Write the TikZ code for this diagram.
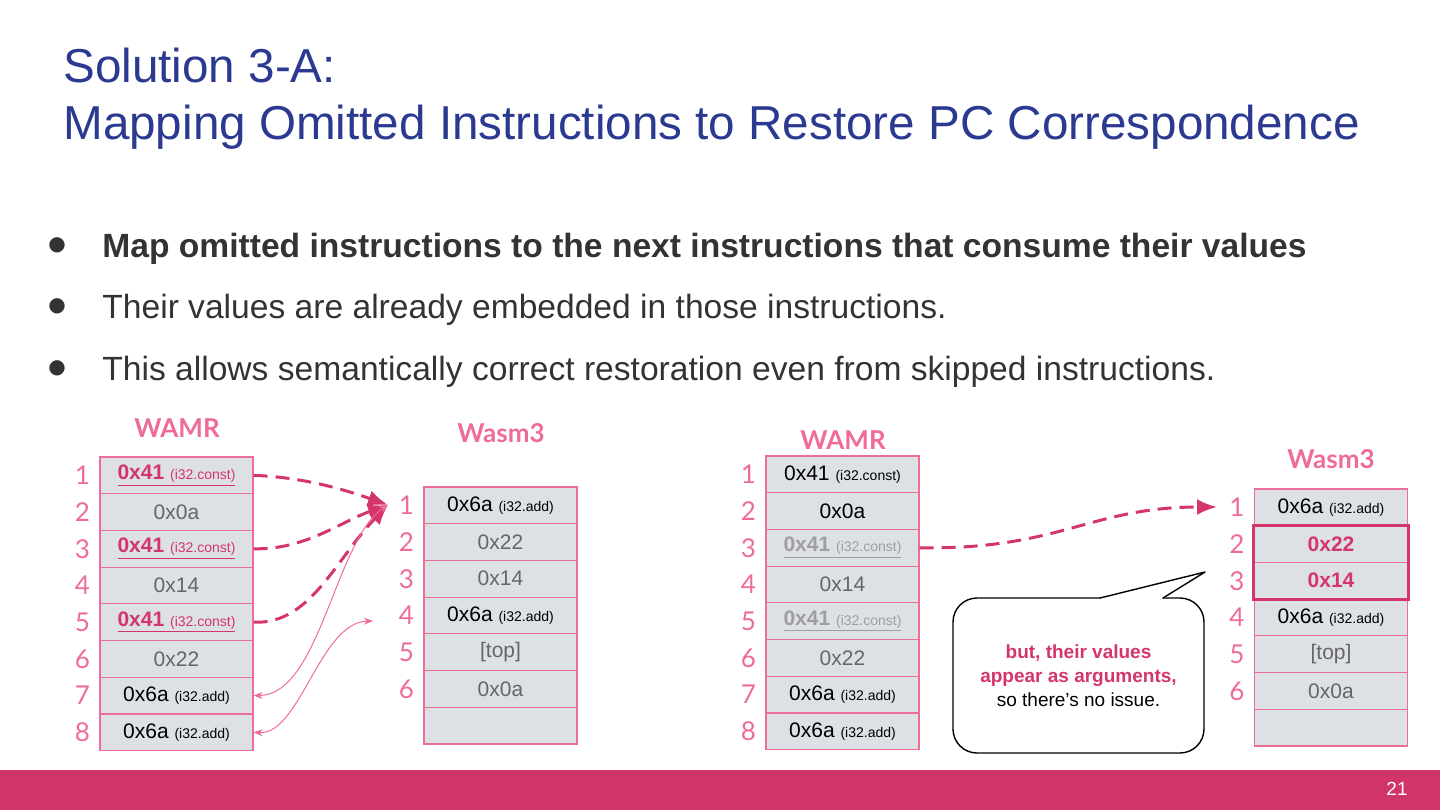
\documentclass[tikz,border=0pt]{standalone}
\usepackage{fontspec}
\setmainfont{Liberation Sans}
\newfontfamily\latofont{Lato}
\newfontfamily\symfont{DejaVu Sans}
\usetikzlibrary{arrows.meta,positioning}
\definecolor{TitleBlue}{HTML}{2B3990}
\definecolor{BodyInk}{HTML}{333333}
\definecolor{CellFill}{HTML}{DDE0E5}
\definecolor{CellLine}{HTML}{EC6E98}
\definecolor{NumPink}{HTML}{EE6C97}
\definecolor{HlPink}{HTML}{D4356B}
\definecolor{GrayText}{HTML}{666666}
\definecolor{SkipGray}{HTML}{9E9E9E}
\definecolor{FootPink}{HTML}{D13467}
\newcommand{\opname}[1]{{\fontsize{7}{8}\selectfont(#1)}}
\newcommand{\hlconst}{\textcolor{HlPink}{\underline{\textbf{0x41}\ \opname{i32.const}}}}
\newcommand{\skconst}{\textcolor{SkipGray}{\underline{\textbf{0x41}\ \opname{i32.const}}}}
\newcommand{\bkconst}{0x41\ \opname{i32.const}}
\newcommand{\addop}{0x6a\ \opname{i32.add}}
\newcommand{\gr}[1]{\textcolor{GrayText}{#1}}
\newcommand{\hlval}[1]{\textcolor{HlPink}{\textbf{#1}}}
\tikzset{
  cell/.style={rectangle, draw=CellLine, line width=0.6pt, fill=CellFill,
               minimum width=76.5pt, minimum height=18.35pt, inner sep=0pt,
               font=\fontsize{10.5}{12}\selectfont},
  rownum/.style={font=\latofont\fontsize{13}{15}\selectfont, text=NumPink, inner sep=1pt},
  tabtitle/.style={font=\latofont\bfseries\fontsize{13}{15}\selectfont, text=NumPink},
  title/.style={font=\fontsize{23.8}{28}\selectfont, text=TitleBlue, anchor=base west, inner sep=0pt},
  bullettext/.style={font=\fontsize{16.8}{20}\selectfont, text=BodyInk, anchor=base west, inner sep=0pt},
  bulletdot/.style={font=\symfont\fontsize{10}{12}\selectfont, text=BodyInk, inner sep=0pt},
  dasharrow/.style={draw=HlPink, line width=1.5pt, dash pattern=on 7pt off 4pt,
                    -{Latex[length=10pt,width=8pt]}},
  thinarrow/.style={draw=NumPink, line width=0.5pt,
                    {Stealth[length=4.5pt,width=3.5pt]}-{Stealth[length=4.5pt,width=3.5pt]}},
  hlbox/.style={draw=HlPink, line width=1.5pt},
  callout/.style={draw=black, line width=0.7pt, line cap=round, line join=round},
  notetext/.style={font=\fontsize{9.5}{12}\selectfont, align=center, inner sep=0pt},
}
\begin{document}
\begin{tikzpicture}[x=0.5pt, y=-0.5pt]
\useasboundingbox (0,0) rectangle (1440,810);

% title and bullets
\node[title] (title1) at (63,82) {Solution 3-A:};
\node[title] (title2) at (63,139) {Mapping Omitted Instructions to Restore PC Correspondence};
\node[bulletdot] (dot1) at (57,245) {●};
\node[bulletdot] (dot2) at (57,306) {●};
\node[bulletdot] (dot3) at (57,368) {●};
\node[bullettext] (item1) at (102,257) {\textbf{Map omitted instructions to the next instructions that consume their values}};
\node[bullettext] (item2) at (102,318) {Their values are already embedded in those instructions.};
\node[bullettext] (item3) at (102,380) {This allows semantically correct restoration even from skipped instructions.};

% left pair
\node[tabtitle] (lwtitle) at (177,428) {WAMR};
\node[tabtitle] (lmtitle) at (501,433) {Wasm3};
\foreach \t [count=\i] in {\hlconst, \gr{0x0a}, \hlconst, \gr{0x14}, \hlconst, \gr{0x22}, \addop, \addop}
  \node[cell] (lw\i) at (176.5,{475.35+36.7*(\i-1)}) {\t};
\foreach \t [count=\i] in {\addop, \gr{0x22}, \gr{0x14}, \addop, \gr{[top]}, \gr{0x0a}, {}}
  \node[cell] (lm\i) at (500.5,{505.35+36.7*(\i-1)}) {\t};
\foreach \i in {1,...,8}
  \node[rownum, left=3.5pt of lw\i] (lwn\i) {\i};
\foreach \i in {1,...,6}
  \node[rownum, left=3.5pt of lm\i] (lmn\i) {\i};

\coordinate (lhit) at (388,505);
\coordinate (lmid) at (373,621);
\draw[dasharrow] (lw1.east) .. controls (300,477) and (340,488) .. (lhit);
\draw[dasharrow] (lw3.east) .. controls (305,550) and (340,522) .. (lhit);
\draw[dasharrow] (lw5.east) .. controls (310,625) and (335,560) .. (lhit);
\draw[thinarrow] (lw7.east) .. controls (320,695) and (335,540) .. (lhit);
\draw[thinarrow] (lw8.east) .. controls (300,735) and (320,622) .. (lmid);

% right pair
\node[tabtitle] (rwtitle) at (843,440) {WAMR};
\node[tabtitle] (rmtitle) at (1331,459) {Wasm3};
\foreach \t [count=\i] in {\bkconst, 0x0a, \skconst, \gr{0x14}, \skconst, \gr{0x22}, \addop, \addop}
  \node[cell] (rw\i) at (842.5,{474.35+36.7*(\i-1)}) {\t};
\foreach \t [count=\i] in {\addop, \hlval{0x22}, \hlval{0x14}, \addop, \gr{[top]}, \gr{0x0a}, {}}
  \node[cell] (rm\i) at (1331,{507.35+36.7*(\i-1)}) {\t};
\foreach \i in {1,...,8}
  \node[rownum, left=3.5pt of rw\i] (rwn\i) {\i};
\foreach \i in {1,...,6}
  \node[rownum, left=3.5pt of rm\i] (rmn\i) {\i};
\draw[hlbox] (rm2.north west) rectangle (rm3.south east);

\coordinate (rhit) at (1217,507);
\draw[dasharrow] (rw3.east) .. controls (1060,550) and (1090,507) .. (rhit);

% callout
\draw[callout, rounded corners=12pt] (1163,598) -- (1204,598) -- (1204,753)
  -- (953,753) -- (953,598) -- (1100,598);
\draw[callout] (1100,598) -- (1205,572) -- (1163,598);
\node[notetext] (note) at (1078.5,676) {\hlval{but, their values}\\
  \hlval{appear as arguments,}\\ so there’s no issue.};

% footer
\fill[FootPink] (0,770) rectangle (1440,810);
\node[font=\fontsize{9.5}{11}\selectfont, text=white] (pagenum) at (1397,789) {21};
\end{tikzpicture}
\end{document}
